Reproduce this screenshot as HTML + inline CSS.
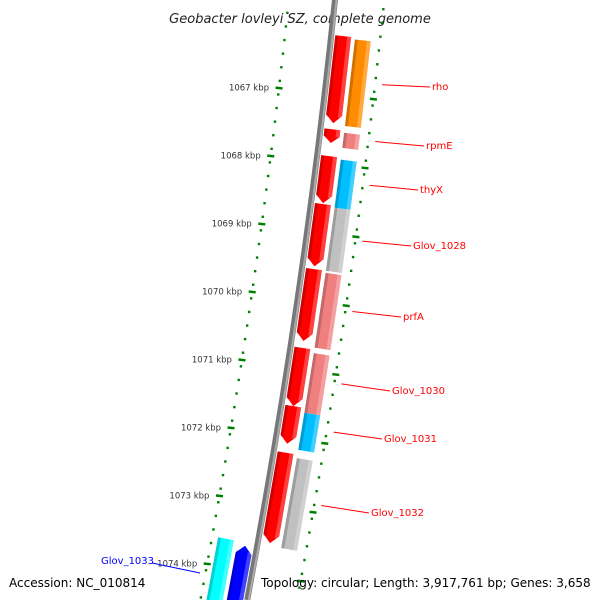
<!DOCTYPE html>
<html><head><meta charset="utf-8"><style>
html,body{margin:0;padding:0;background:#fff;width:600px;height:600px;overflow:hidden}
svg{display:block;font-family:"DejaVu Sans","Liberation Sans",sans-serif}
</style></head><body>
<svg id="chart" width="600" height="600" viewBox="0 0 600 600"></svg>
<script>
// ---- data ----
const tickKbp = [1067,1068,1069,1070,1071,1072,1073,1074];
const geneNames = ["rho","rpmE","thyX","Glov_1028","prfA","Glov_1030","Glov_1031","Glov_1032"];
const geneStart = [1066.15,1067.51,1067.90,1068.60,1069.55,1070.70,1071.55,1072.23];
const geneEnd   = [1067.42,1067.71,1068.59,1069.51,1070.60,1071.55,1072.10,1073.55];
const featStart = [1066.18,1067.54,1067.93,1068.63,1069.58,1070.75,1071.62,1072.28];
const featEnd   = [1067.44,1067.76,1068.63,1069.55,1070.67,1071.62,1072.16,1073.59];
const featColor = ["#ff8c00","#f08080","#00bfff","#c0c0c0","#f08080","#f08080","#00bfff","#c0c0c0"];
const labelPos  = [[432,90],[426,149],[420,193],[413,249],[403,320],[392,394],[384,442],[371,516]];
const revStart = [1073.60,1073.65,1065.40,1065.40];
const revEnd   = [1074.60,1074.60,1065.62,1065.62];
const revColor = ["#00ffff","#0000ff","#4682b4","#0000ff"];
const revLane  = [2,1,2,1];

// ---- geometry ----
const svg=document.getElementById('chart');
const NS='http://www.w3.org/2000/svg';
function yOf(k){return 93+(k-1067)*68.4;}
function bx(y){return 335-0.104*y-0.0000705*y*y;}
function slope(y){return -0.104-2*0.0000705*y;}
function pt(y,off){const s=slope(y);const n=Math.sqrt(1+s*s);return [bx(y)+off/n, y-off*s/n];}
function mk(tag,attrs,parent){const e=document.createElementNS(NS,tag);for(const k in attrs)e.setAttribute(k,attrs[k]);(parent||svg).appendChild(e);return e;}
function P(a){return a.map(p=>p[0].toFixed(1)+','+p[1].toFixed(1)).join(' ');}
function arcPts(y1,y2,off){const r=[];for(let y=y1;y<=y2+0.01;y+=(y2-y1)/12)r.push(pt(y,off));return r;}

// title
let t=mk('text',{x:300,y:23,'text-anchor':'middle','font-size':13,'font-style':'italic',fill:'#222'});
t.textContent='Geobacter lovleyi SZ, complete genome';



// backbone
let bb=mk('polyline',{points:P(arcPts(-5,600,0)),fill:'none',stroke:'#777','stroke-width':6});


mk('polyline',{points:P(arcPts(-5,600,1.5)),fill:'none',stroke:'#aaa','stroke-width':2});

// dotted rings
[-46,49].forEach((off,i)=>{
  const g=mk('g',{});
  
  
  for(let k=1065.3;k<1075.0;k+=0.2){
    const y=yOf(k);const p=pt(y,off);
    if(p[1]<1||p[1]>598)continue;
    mk('rect',{x:p[0]-1.2,y:p[1]-1.2,width:2.4,height:2.4,fill:'#008000'},g);
  }
});

// ticks
tickKbp.forEach(k=>{
  const y=yOf(k);
  [-46,49].forEach(off=>{
    const p=pt(y,off);
    const tk=mk('line',{x1:p[0]-3.5,y1:p[1],x2:p[0]+3.5,y2:p[1]+0.8,stroke:'#008000','stroke-width':2.5});
    
    
  });
  const p=pt(y,-46);
  const lb=mk('text',{x:p[0]-10,y:p[1]+3,'text-anchor':'end','font-size':8.5,fill:'#333'});
  lb.textContent=k+' kbp';
  
  
});

function box(y1,y2,o1,o2,color,arrow,dir,name){
  const g=mk('g',{});
  
  
  const mid=(o1+o2)/2;let pts;
  if(!arrow){pts=[pt(y1,o1),pt(y1,o2),pt(y2,o2),pt(y2,o1)];}
  else if(dir>0){const a=Math.min(8,(y2-y1)*0.5);pts=[pt(y1,o1),pt(y1,o2),pt(y2-a,o2),pt(y2,mid),pt(y2-a,o1)];}
  else{const a=Math.min(8,(y2-y1)*0.5);pts=[pt(y1+a,o1),pt(y1,mid),pt(y1+a,o2),pt(y2,o2),pt(y2,o1)];}
  mk('polygon',{points:P(pts),fill:color},g);
  const s1=y1+(arrow&&dir<0?6:0), s2=y2-(arrow&&dir>0?6:0);
  mk('polygon',{points:P([pt(s1,o1),pt(s1,o1+3),pt(s2,o1+3),pt(s2,o1)]),fill:'#000',opacity:0.18},g);
  mk('polygon',{points:P([pt(s1,o2-4),pt(s1,o2),pt(s2,o2),pt(s2,o2-4)]),fill:'#fff',opacity:0.25},g);
  return g;
}

geneNames.forEach((n,i)=>{
  box(yOf(geneStart[i]),yOf(geneEnd[i]),4,20,'#ff0000',true,1,'gene-'+n);
  box(yOf(featStart[i]),yOf(featEnd[i]),24,40,featColor[i],false,0,'feature-'+n);
  const ym=(yOf(geneStart[i])+yOf(geneEnd[i]))/2;
  const a=pt(ym,56);const lp=labelPos[i];
  const ln=mk('line',{x1:a[0],y1:a[1],x2:lp[0]-2,y2:lp[1]-3,stroke:'#ff0000','stroke-width':1});
  
  
  const tx=mk('text',{x:lp[0],y:lp[1],'font-size':10,fill:'#ff0000'});
  tx.textContent=n;
  
  
});

revStart.forEach((s,i)=>{
  const o=revLane[i]===1?[-20,-4]:[-40,-24];
  box(yOf(s),yOf(revEnd[i]),o[0],o[1],revColor[i],i===1,-1,'reverse-gene-'+i);
});

// Glov_1033 label
let bl=mk('line',{x1:152,y1:563,x2:200,y2:573,stroke:'#0000ff','stroke-width':1});


let bt=mk('text',{x:101,y:564,'font-size':10,fill:'#0000ff'});
bt.textContent='Glov_1033';



let ac=mk('text',{x:9,y:587,'font-size':12,fill:'#000'});
ac.textContent='Accession: NC_010814';


let tp=mk('text',{x:261,y:587,'font-size':12,fill:'#000'});
tp.textContent='Topology: circular; Length: 3,917,761 bp; Genes: 3,658';


</script>
</body></html>
